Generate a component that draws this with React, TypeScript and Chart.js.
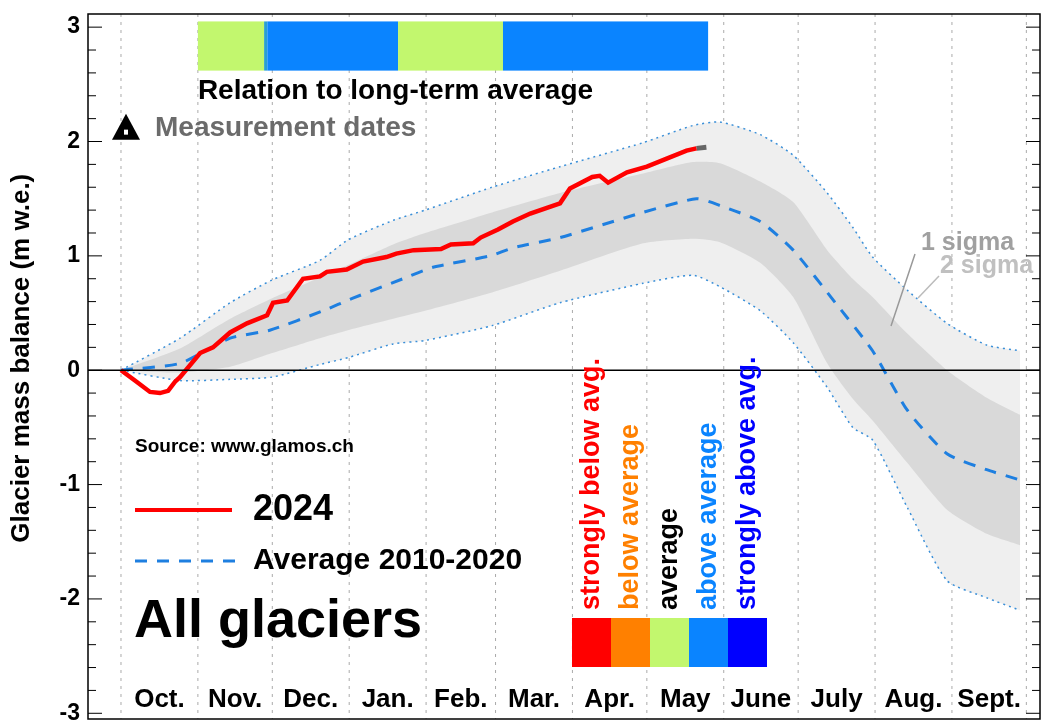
import React, { useEffect, useRef } from "react";
import { Chart, registerables } from "chart.js";
Chart.register(...registerables);

const monthLabels = ["Oct.", "Nov.", "Dec.", "Jan.", "Feb.", "Mar.", "Apr.", "May", "June", "July", "Aug.", "Sept."];
const monthStarts = [0, 31, 61, 92, 123, 151, 182, 212, 243, 273, 304, 335, 365];
const yTicks = [-3, -2, -1, 0, 1, 2, 3];

const bandDays = [0, 23.8, 44, 61, 80.2, 91.5, 109.7, 122.6, 149.6, 177, 210.5, 230.6, 241.5, 257.7, 271, 284.7, 295, 303, 317, 333, 349, 362.5];
const sigma2Upper = [0, 0.28, 0.59, 0.79, 0.96, 1.14, 1.31, 1.4, 1.6, 1.78, 1.99, 2.14, 2.17, 2.06, 1.88, 1.55, 1.25, 0.99, 0.7, 0.41, 0.22, 0.17];
const sigma2Lower = [0, -0.09, -0.08, -0.06, 0.05, 0.11, 0.23, 0.26, 0.39, 0.59, 0.76, 0.83, 0.73, 0.52, 0.24, -0.15, -0.5, -0.61, -1.2, -1.84, -1.99, -2.1];
const sigma1Upper = [0, 0.19, 0.45, 0.63, 0.81, 0.92, 1.1, 1.2, 1.38, 1.55, 1.72, 1.82, 1.81, 1.65, 1.47, 1.05, 0.8, 0.64, 0.32, 0, -0.24, -0.39];
const sigma1Lower = [0, -0.02, 0.03, 0.15, 0.28, 0.35, 0.45, 0.52, 0.68, 0.87, 1.11, 1.15, 1.12, 0.94, 0.64, 0.06, -0.25, -0.44, -0.81, -1.22, -1.43, -1.53];

const avgDays = [0, 23.8, 44, 60, 81.5, 93.5, 113.7, 125.8, 148.8, 158, 177, 210.5, 232, 241.5, 257.7, 271, 288, 303, 317, 333, 349, 362.5];
const avgValues = [0, 0.06, 0.28, 0.35, 0.52, 0.63, 0.8, 0.9, 1.0, 1.07, 1.16, 1.38, 1.5, 1.44, 1.3, 1.05, 0.59, 0.17, -0.35, -0.73, -0.87, -0.96];

const obsDays = [0, 5.6, 11.7, 15.7, 19, 21.8, 23.8, 31.9, 37.1, 44, 50.8, 58.9, 61.3, 67, 73.4, 80.2, 83, 91, 97.6, 107, 111, 118, 129, 133, 142, 145, 152, 158, 165, 177, 181, 190, 193, 196.4, 204, 212, 220, 228, 232];
const obsValues = [0, -0.09, -0.19, -0.2, -0.18, -0.1, -0.06, 0.15, 0.2, 0.33, 0.41, 0.48, 0.59, 0.61, 0.8, 0.82, 0.86, 0.88, 0.95, 0.99, 1.02, 1.05, 1.06, 1.1, 1.11, 1.16, 1.23, 1.3, 1.37, 1.46, 1.59, 1.69, 1.7, 1.64, 1.73, 1.78, 1.85, 1.92, 1.94];
const extDays = [232, 236];
const extValues = [1.94, 1.95];

const relStarts = [31, 57.7, 59, 111.7, 154];
const relEnds = [57.7, 59, 111.7, 154, 236.7];
const relColors = ["#c2f76e", "#2aa0d0", "#0a84ff", "#c2f76e", "#0a84ff"];

const legendLabels = ["strongly below avg.", "below average", "average", "above average", "strongly above avg."];
const legendColors = ["#ff0000", "#ff8000", "#c2f76e", "#0a84ff", "#0000ff"];
const legendTextColors = ["#ff0000", "#ff8000", "#000000", "#0a84ff", "#0000ff"];

const pts = (xs: number[], ys: number[]) => xs.map((x, i) => ({ x, y: ys[i] }));
const FONT = "'Liberation Sans', Arial, sans-serif";

const deco = {
  id: "deco",
  beforeDatasetsDraw(chart: any) {
    const { ctx, chartArea: a, scales } = chart;
    const xs = scales.x;
    ctx.save();
    ctx.strokeStyle = "#aaaaaa";
    ctx.lineWidth = 1;
    ctx.setLineDash([3, 5]);
    monthStarts.forEach((d) => {
      const px = xs.getPixelForValue(d);
      ctx.beginPath(); ctx.moveTo(px, a.top); ctx.lineTo(px, a.bottom); ctx.stroke();
    });
    ctx.restore();
  },
  afterDatasetsDraw(chart: any) {
    const { ctx, chartArea: a, scales } = chart;
    const xs = scales.x, ys = scales.y;
    ctx.save();
    ctx.strokeStyle = "#000"; ctx.lineWidth = 1.5;
    const y0 = ys.getPixelForValue(0);
    ctx.beginPath(); ctx.moveTo(a.left, y0); ctx.lineTo(a.right, y0); ctx.stroke();
    ctx.strokeRect(a.left, a.top, a.right - a.left, a.bottom - a.top);
    ctx.lineWidth = 1;
    for (let v = -3; v <= 3.001; v += 0.2) {
      const py = ys.getPixelForValue(v);
      const major = Math.abs(v - Math.round(v)) < 0.01;
      const len = major ? 14 : 8;
      ctx.beginPath(); ctx.moveTo(a.left, py); ctx.lineTo(a.left + len, py); ctx.stroke();
      ctx.beginPath(); ctx.moveTo(a.right, py); ctx.lineTo(a.right - len, py); ctx.stroke();
    }
    ctx.fillStyle = "#000";
    ctx.textBaseline = "middle";
    ctx.textAlign = "right";
    ctx.font = `bold 23px ${FONT}`;
    yTicks.forEach((v) => ctx.fillText(String(v), a.left - 8, ys.getPixelForValue(v)));
    ctx.save();
    ctx.translate(22, ys.getPixelForValue(0) - 12);
    ctx.rotate(-Math.PI / 2);
    ctx.textAlign = "center";
    ctx.font = `bold 26px ${FONT}`;
    ctx.fillText("Glacier mass balance (m w.e.)", 0, 0);
    ctx.restore();
    const barTop = ys.getPixelForValue(3.05), barBot = ys.getPixelForValue(2.62);
    relStarts.forEach((s, i) => {
      const x1 = xs.getPixelForValue(s), x2 = xs.getPixelForValue(relEnds[i]);
      ctx.fillStyle = relColors[i];
      ctx.fillRect(x1, barTop, x2 - x1, barBot - barTop);
    });
    ctx.fillStyle = "#000";
    ctx.textAlign = "left";
    ctx.font = `bold 28px ${FONT}`;
    ctx.fillText("Relation to long-term average", xs.getPixelForValue(31), ys.getPixelForValue(2.44));
    const tx = a.left + 38, ty = ys.getPixelForValue(2.13);
    ctx.beginPath(); ctx.moveTo(tx - 14, ty + 13); ctx.lineTo(tx, ty - 13); ctx.lineTo(tx + 14, ty + 13); ctx.closePath(); ctx.fill();
    ctx.fillStyle = "#fff";
    ctx.fillRect(tx - 2, ty + 3, 4, 5);
    ctx.fillStyle = "#6b6b6b";
    ctx.font = `bold 28px ${FONT}`;
    ctx.fillText("Measurement dates", a.left + 67, ys.getPixelForValue(2.12));
    ctx.font = `bold 25px ${FONT}`;
    ctx.fillStyle = "#a0a0a0";
    ctx.fillText("1 sigma", 921, 243);
    ctx.fillStyle = "#c0c0c0";
    ctx.fillText("2 sigma", 940, 266);
    ctx.strokeStyle = "#999"; ctx.lineWidth = 1.5;
    ctx.beginPath(); ctx.moveTo(915, 254); ctx.lineTo(891, 326); ctx.stroke();
    ctx.strokeStyle = "#bbb";
    ctx.beginPath(); ctx.moveTo(939, 276); ctx.lineTo(918, 298); ctx.stroke();
    ctx.fillStyle = "#000";
    ctx.font = `bold 19px ${FONT}`;
    ctx.fillText("Source: www.glamos.ch", 135, 447);
    ctx.strokeStyle = "#ff0000"; ctx.lineWidth = 4;
    ctx.beginPath(); ctx.moveTo(135, 510); ctx.lineTo(232, 510); ctx.stroke();
    ctx.font = `bold 36px ${FONT}`;
    ctx.fillText("2024", 253, 510);
    ctx.strokeStyle = "#1e7fe0"; ctx.lineWidth = 3; ctx.setLineDash([12, 10]);
    ctx.beginPath(); ctx.moveTo(135, 561); ctx.lineTo(235, 561); ctx.stroke();
    ctx.setLineDash([]);
    ctx.font = `bold 30px ${FONT}`;
    ctx.fillText("Average 2010-2020", 253, 561);
    ctx.font = `bold 54px ${FONT}`;
    ctx.fillText("All glaciers", 134, 622);
    const lx = 572, lw = 39;
    legendColors.forEach((c, i) => {
      ctx.fillStyle = c;
      ctx.fillRect(lx + i * lw, 618, lw, 49);
      ctx.save();
      ctx.translate(lx + i * lw + lw / 2, 610);
      ctx.rotate(-Math.PI / 2);
      ctx.fillStyle = legendTextColors[i];
      ctx.font = `bold 27px ${FONT}`;
      ctx.textAlign = "left";
      ctx.fillText(legendLabels[i], 0, 0);
      ctx.restore();
    });
    ctx.fillStyle = "#000";
    ctx.textAlign = "center";
    ctx.font = `bold 26px ${FONT}`;
    monthLabels.forEach((m, i) => {
      const cx = xs.getPixelForValue((monthStarts[i] + monthStarts[i + 1]) / 2);
      ctx.fillText(m, cx, 700);
    });
    ctx.restore();
  },
};

export default function App() {
  const ref = useRef<HTMLCanvasElement>(null);
  useEffect(() => {
    const chart = new Chart(ref.current!, {
      type: "line",
      data: {
        datasets: [
          { data: pts(bandDays, sigma2Upper), borderColor: "#3a8fd8", borderWidth: 1.5, borderDash: [2, 4], backgroundColor: "#efefef", fill: "+1", pointRadius: 0, order: 10, tension: 0.2 } as any,
          { data: pts(bandDays, sigma2Lower), borderColor: "#3a8fd8", borderWidth: 1.5, borderDash: [2, 4], fill: false, pointRadius: 0, order: 9, tension: 0.2 },
          { data: pts(bandDays, sigma1Upper), borderColor: "rgba(0,0,0,0)", borderWidth: 0, backgroundColor: "#d9d9d9", fill: "+1", pointRadius: 0, order: 8, tension: 0.2 },
          { data: pts(bandDays, sigma1Lower), borderColor: "rgba(0,0,0,0)", borderWidth: 0, fill: false, pointRadius: 0, order: 7, tension: 0.2 },
          { data: pts(avgDays, avgValues), borderColor: "#1e7fe0", borderWidth: 3, borderDash: [12, 10], fill: false, pointRadius: 0, order: 3, tension: 0.2 },
          { data: pts(extDays, extValues), borderColor: "#666666", borderWidth: 5, fill: false, pointRadius: 0, order: 2 },
          { data: pts(obsDays, obsValues), borderColor: "#ff0000", borderWidth: 4.5, fill: false, pointRadius: 0, order: 1 },
        ],
      },
      options: {
        animation: false,
        responsive: false,
        layout: { padding: { top: 14, right: 5, bottom: 2, left: 88 } },
        plugins: { legend: { display: false }, tooltip: { enabled: false } },
        scales: {
          x: { type: "linear", min: -13.3, max: 370.5, display: false },
          y: { min: -3.05, max: 3.115, display: false },
        },
      },
      plugins: [deco],
    });
    return () => chart.destroy();
  }, []);
  return (
    <div style={{ position: "absolute", left: 0, top: 0, width: 1045, height: 721, background: "#fff" }}>
      <canvas ref={ref} width={1045} height={721} />
    </div>
  );
}
